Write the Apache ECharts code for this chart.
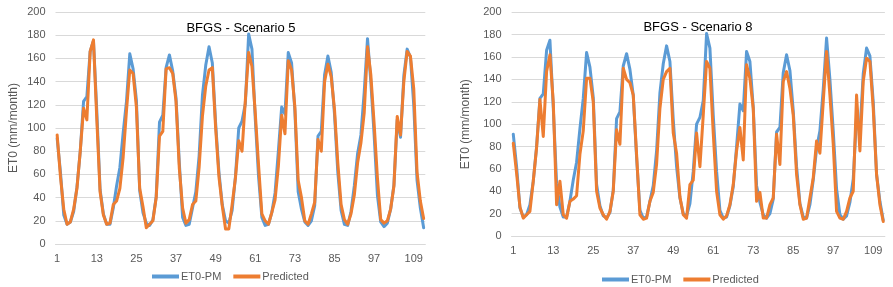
<!DOCTYPE html>
<html>
<head>
<meta charset="utf-8">
<script src="https://cdn.jsdelivr.net/npm/echarts@6/dist/echarts.min.js"></script>
<style>
html,body{margin:0;padding:0;background:#fff;}
#c{width:893px;height:287px;}
</style>
</head>
<body>
<div id="c"></div>
<script>
var months = [];
for (var k = 1; k <= 112; k++) months.push(String(k));

var et0pm = [91,62,25,17,19,28,49,80,123,127,166,175,
115,47,26,17,17,31,50,66,96,123,164,151,
124,46,27,18,16,21,41,105,111,152,163,149,
126,70,23,16,17,31,45,76,128,154,170,156,
104,62,34,20,18,29,58,100,106,121,181,168,
108,58,23,16,17,27,44,80,118,112,165,156,
115,45,30,19,16,20,33,93,97,146,162,148,
112,62,29,17,16,28,50,78,94,131,177,140,
94,42,19,15,18,30,51,107,92,145,168,161,
120,55,31,14];

var predS5 = [94,58,30,17,19,30,48,80,117,107,166,176,
108,45,25,17,18,34,37,48,75,115,150,147,
118,48,32,14,17,20,40,93,97,151,152,147,
123,65,31,18,21,34,37,66,110,136,150,152,
100,58,33,13,13,34,57,89,80,124,165,153,
113,68,26,20,17,27,38,67,111,95,158,150,
118,55,40,20,17,26,36,90,80,140,155,144,
116,70,34,21,17,26,42,70,87,113,170,146,
104,57,21,18,20,30,50,110,94,140,166,162,
134,62,37,22];

var predS8 = [83,56,26,16,19,22,49,79,122,89,147,162,
120,28,49,19,16,31,33,36,73,94,141,141,
120,40,25,19,15,22,40,95,82,150,140,137,
126,73,19,15,16,31,39,64,114,140,147,150,
92,74,35,19,16,46,50,92,62,108,156,150,
92,40,19,15,18,28,46,76,97,68,153,141,
114,31,39,16,16,28,34,91,64,138,147,132,
108,55,28,15,16,34,52,85,74,120,165,126,
82,22,16,15,22,34,40,126,76,138,159,156,
114,55,28,13];

var titles = ['BFGS - Scenario 5', 'BFGS - Scenario 8'];
var yTitle = 'ET0 (mm/month)';
var names = ['ET0-PM', 'Predicted'];

var BLUE = '#5B9BD5', ORANGE = '#ED7D31', GRID = '#D9D9D9', TXT = '#595959';
var FONT = 'Liberation Sans';

function xAxis(i) {
  return {
    type: 'category', gridIndex: i, data: months, boundaryGap: true,
    axisTick: {show: false},
    axisLine: {show: true, lineStyle: {color: GRID, width: 1}},
    axisLabel: {interval: 11, color: TXT, fontSize: 11, fontFamily: FONT, margin: 9},
    splitLine: {show: false}
  };
}
function yAxis(i, gap) {
  return {
    type: 'value', gridIndex: i, min: 0, max: 200, interval: 20,
    name: yTitle, nameLocation: 'middle', nameRotate: 90, nameGap: gap,
    nameTextStyle: {color: TXT, fontSize: 12, fontFamily: FONT},
    axisLine: {show: false}, axisTick: {show: false},
    axisLabel: {color: TXT, fontSize: 11, fontFamily: FONT, margin: 10},
    splitLine: {lineStyle: {color: GRID, width: 1}}
  };
}
function line(name, data, color, i) {
  return {
    type: 'line', name: name, data: data, xAxisIndex: i, yAxisIndex: i,
    showSymbol: false, symbol: 'none', smooth: false,
    lineStyle: {color: color, width: 3, cap: 'round', join: 'round'},
    itemStyle: {color: color}, animation: false
  };
}
function legend(left, top) {
  return {
    left: left, top: top, data: names, icon: 'rect',
    itemWidth: 27, itemHeight: 4, itemGap: 12,
    textStyle: {color: TXT, fontSize: 11, fontFamily: FONT, padding: [0,0,0,-3]}
  };
}

var chart = echarts.init(document.getElementById('c'), null, {renderer: 'canvas'});
chart.setOption({
  animation: false,
  backgroundColor: '#fff',
  title: [
    {text: titles[0], left: 236, top: 17, textAlign: 'center',
     textStyle: {color: '#000', fontSize: 13, fontWeight: 'normal', fontFamily: FONT}},
    {text: titles[1], left: 693, top: 16, textAlign: 'center',
     textStyle: {color: '#000', fontSize: 13, fontWeight: 'normal', fontFamily: FONT}}
  ],
  legend: [legend(147, 266), legend(597, 269)],
  grid: [
    {left: 55.5, top: 12, width: 369.8, height: 232},
    {left: 511.6, top: 12.3, width: 373.3, height: 223.7}
  ],
  xAxis: [xAxis(0), xAxis(1)],
  yAxis: [yAxis(0, 36), yAxis(1, 40)],
  series: [
    line(names[0], et0pm, BLUE, 0),
    line(names[1], predS5, ORANGE, 0),
    line(names[0], et0pm, BLUE, 1),
    line(names[1], predS8, ORANGE, 1)
  ]
});
</script>
</body>
</html>
